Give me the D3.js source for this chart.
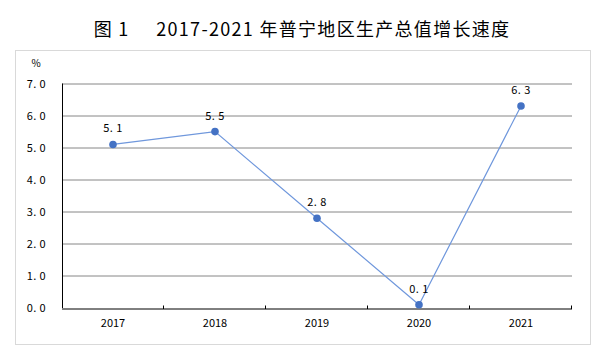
<!DOCTYPE html>
<html>
<head>
<meta charset="utf-8">
<script src="https://cdn.jsdelivr.net/npm/d3@7"></script>
<style>
  body { margin: 0; background: #fff; }
  text { font-family: "Noto Sans CJK SC", "DejaVu Sans", sans-serif; }
  .title { white-space: pre; }
</style>
</head>
<body>
<svg id="chart"></svg>
<script>
const years = ["2017", "2018", "2019", "2020", "2021"];
const growth = [5.1, 5.5, 2.8, 0.1, 6.3];
const yTicks = [0, 1, 2, 3, 4, 5, 6, 7];

const width = 603, height = 360;
const margin = { top: 83.5, right: 31, bottom: 52, left: 62 };

const svg = d3.select("#chart")
    .attr("width", width)
    .attr("height", height);

// title
svg.append("text")
    .attr("class", "title")
    .attr("x", 302)
    .attr("y", 36)
    .attr("text-anchor", "middle")
    .attr("font-size", 18)
    .attr("font-weight", 400)
    .attr("letter-spacing", 1.3)
    .attr("fill", "#000")
    .text("图 1     2017-2021 年普宁地区生产总值增长速度");

// frame
svg.append("rect")
    .attr("x", 15.5).attr("y", 50.5)
    .attr("width", 575).attr("height", 294)
    .attr("fill", "none")
    .attr("stroke", "#d9d9d9");

const innerW = width - margin.left - margin.right;
const innerH = height - margin.top - margin.bottom;

const chart = svg.append("g")
    .attr("transform", `translate(${margin.left}, ${margin.top})`);

const x = d3.scaleBand().domain(years).range([0, innerW]);
const y = d3.scaleLinear().domain([0, 7]).range([innerH, 0]);

// gridlines
chart.selectAll(".grid")
    .data(yTicks.slice(1))
    .join("line")
    .attr("class", "grid")
    .attr("x1", 0).attr("x2", innerW)
    .attr("y1", (d) => Math.round(y(d)) + 0.5)
    .attr("y2", (d) => Math.round(y(d)) + 0.5)
    .attr("stroke", "#868686");

// y labels
chart.selectAll(".ylab")
    .data(yTicks)
    .join("text")
    .attr("class", "ylab")
    .attr("x", -16)
    .attr("y", (d) => y(d) + 4)
    .attr("text-anchor", "end")
    .attr("font-size", 11)
    .attr("letter-spacing", 0.4)
    .attr("fill", "#000")
    .text((d) => d.toFixed(1).replace(".", ". "));

svg.append("text")
    .attr("x", 36).attr("y", 67)
    .attr("text-anchor", "middle")
    .attr("font-size", 10)
    .attr("fill", "#000")
    .text("%");

// axes
chart.append("line")
    .attr("x1", 0.5).attr("x2", 0.5)
    .attr("y1", 0).attr("y2", innerH)
    .attr("stroke", "#000");
chart.append("line")
    .attr("x1", 0).attr("x2", innerW)
    .attr("y1", Math.round(innerH) + 0.5).attr("y2", Math.round(innerH) + 0.5)
    .attr("stroke", "#000");

// ticks on x axis at band boundaries
chart.selectAll(".xtick")
    .data(years.slice(1).concat(["end"]))
    .join("line")
    .attr("class", "xtick")
    .attr("x1", (d, i) => Math.round(x.step() * (i + 1)) - 0.5)
    .attr("x2", (d, i) => Math.round(x.step() * (i + 1)) - 0.5)
    .attr("y1", Math.round(innerH) - 3)
    .attr("y2", Math.round(innerH) + 0.5)
    .attr("stroke", "#000");

// x labels
chart.selectAll(".xlab")
    .data(years)
    .join("text")
    .attr("class", "xlab")
    .attr("x", (d) => x(d) + x.bandwidth() / 2)
    .attr("y", innerH + 19)
    .attr("text-anchor", "middle")
    .attr("font-size", 11)
    .attr("fill", "#000")
    .text((d) => d);

// line
const line = d3.line()
    .x((d, i) => x(years[i]) + x.bandwidth() / 2)
    .y((d) => y(d));

chart.append("path")
    .datum(growth)
    .attr("d", line)
    .attr("fill", "none")
    .attr("stroke", "#6f97dc")
    .attr("stroke-width", 1.2);

chart.selectAll(".dot")
    .data(growth)
    .join("circle")
    .attr("class", "dot")
    .attr("cx", (d, i) => x(years[i]) + x.bandwidth() / 2)
    .attr("cy", (d) => y(d))
    .attr("r", 3.8)
    .attr("fill", "#4472c4");

chart.selectAll(".vlab")
    .data(growth)
    .join("text")
    .attr("class", "vlab")
    .attr("x", (d, i) => x(years[i]) + x.bandwidth() / 2)
    .attr("y", (d) => y(d) - 12)
    .attr("text-anchor", "middle")
    .attr("font-size", 11)
    .attr("letter-spacing", 0.4)
    .attr("fill", "#000")
    .text((d) => d.toFixed(1).replace(".", ". "));
</script>
</body>
</html>
